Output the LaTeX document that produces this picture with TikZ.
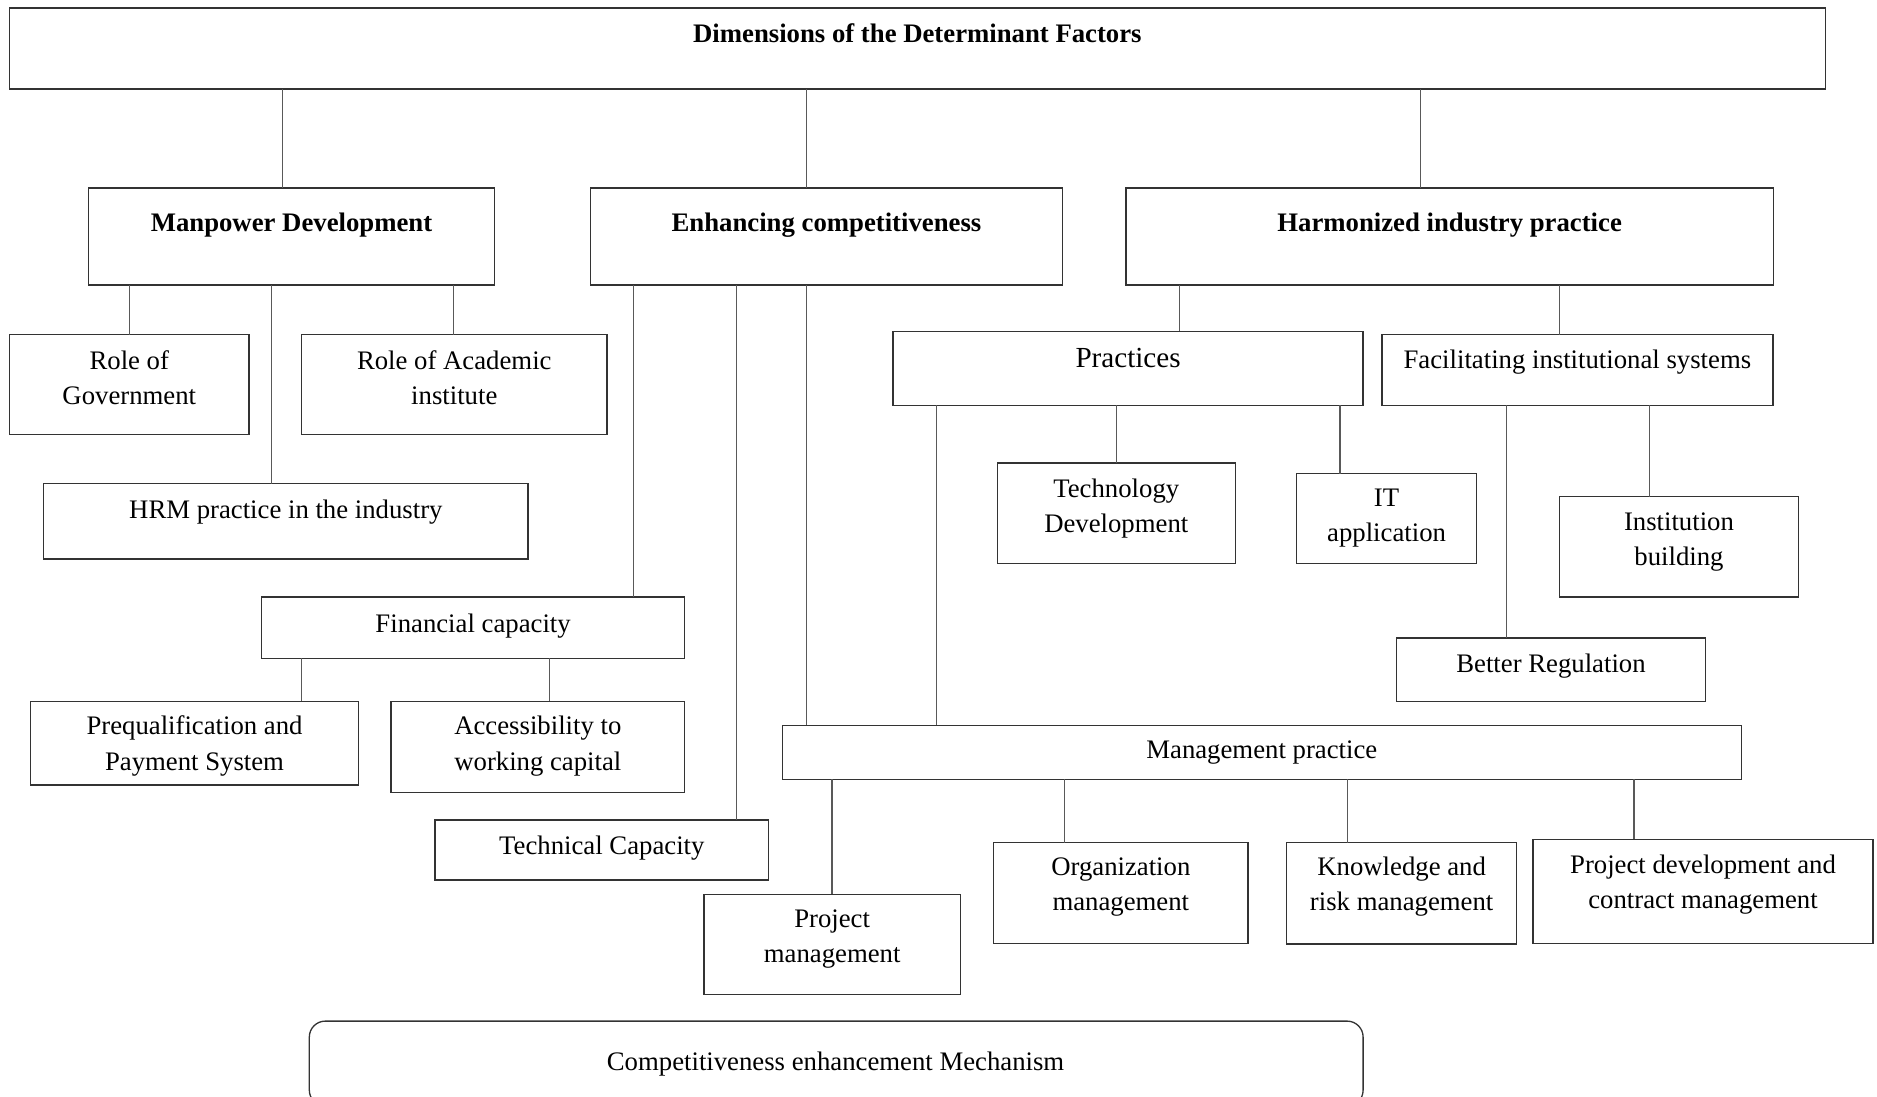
\documentclass[tikz,border=0pt]{standalone}
\usepackage{fontspec}
\setmainfont{Liberation Serif}
% box with its caption: [caption style]{name}{x1}{y1}{x2}{y2}{first baseline}{text}
\newcommand\bx[8][txt]{%
  \node[box, minimum width={(#5-#3)*0.6pt}, minimum height={(#6-#4)*0.6pt}] (#2) at ({(#3+#5)/2},{(#4+#6)/2}) {};
  \node[#1] (#2-t) at ({(#3+#5)/2},{#7-21.6}) {\strut #8};
}
% vertical connector from the bottom of one box to the top of another at abscissa #3
\newcommand\lk[3]{\draw[link] (#1.south -| #3,0) -- (#2.north -| #3,0);}
\begin{document}
\begin{tikzpicture}[x=0.6pt,y=-0.6pt,
  box/.style={draw=black!80, line width=0.65pt, rectangle, inner sep=0pt, outer sep=0pt},
  txt/.style={align=center, inner sep=0pt, anchor=north, font=\fontsize{13.4}{17.7}\selectfont},
  head/.style={txt, font=\fontsize{13.4}{17.7}\selectfont\bfseries},
  big/.style={txt, font=\fontsize{14.6}{17.7}\selectfont},
  link/.style={draw=black!65, line width=0.55pt}]
\fill[white] (0,0) rectangle (1568,916.4);
\useasboundingbox (0,0) rectangle (1568,916.4);

% top level
\bx[head]{top}{8}{6.6}{1524.7}{74.4}{35.8}{Dimensions of the Determinant Factors}
\bx[head]{mp}{74}{157}{413}{238}{194}{Manpower Development}
\bx[head]{ec}{493.3}{157}{887.5}{238}{194}{Enhancing competitiveness}
\bx[head]{hip}{940.5}{157}{1481.4}{238}{194}{Harmonized industry practice}

% manpower development
\bx{gov}{8}{279.6}{208}{363}{309}{Role of\\Government}
\bx{acad}{252}{279.6}{507}{363}{309}{Role of Academic\\institute}
\bx{hrm}{36.6}{404}{441}{467}{434}{HRM practice in the industry}

% enhancing competitiveness
\bx{fin}{218.4}{498.8}{572}{549.8}{528.7}{Financial capacity}
\bx{preq}{25.5}{586}{299.5}{655.8}{614.6}{Prequalification and\\Payment System}
\bx{acc}{326.6}{586}{572}{662}{614.6}{Accessibility to\\working capital}
\bx{tech}{363.5}{685}{642}{735}{714.3}{Technical Capacity}
\bx{mgmt}{653.6}{606}{1454.5}{651}{634.6}{Management practice}
\bx{pm}{588}{747}{802.3}{831}{775}{Project\\management}
\bx{org}{830}{703.8}{1042.6}{788}{732}{Organization\\management}
\bx{know}{1074.8}{703.8}{1267}{788.5}{732}{Knowledge and\\risk management}
\bx{pdev}{1280.7}{701}{1564.6}{788}{730}{Project development and\\contract management}

% harmonized industry practice
\bx[big]{prac}{746}{276.8}{1138.7}{338.6}{307.3}{Practices}
\bx{fac}{1154.4}{279.6}{1481}{338.6}{308.2}{Facilitating institutional systems}
\bx{tdev}{833}{386.7}{1032}{470.8}{416}{Technology\\Development}
\bx{it}{1083}{395.6}{1233.6}{470.8}{423.7}{IT\\application}
\bx{inst}{1302.6}{415}{1502.5}{498.8}{443.9}{Institution\\building}
\bx{breg}{1166.3}{533}{1425}{586}{562}{Better Regulation}

% mechanism (runs past the lower edge)
\node[box, rounded corners=8pt, minimum width={880.3*0.6pt}, minimum height={71*0.6pt}] (mech) at (698.55,888.5) {};
\node[txt] (mech-t) at (698,873.5) {\strut Competitiveness enhancement Mechanism};

% connectors
\lk{top}{mp}{236}
\lk{top}{ec}{674}
\lk{top}{hip}{1187}
\lk{mp}{gov}{108}
\lk{mp}{acad}{379}
\lk{mp}{hrm}{227}
\lk{ec}{fin}{529.4}
\lk{ec}{tech}{615.5}
\lk{ec}{mgmt}{673.5}
\lk{fin}{preq}{252}
\lk{fin}{acc}{459}
\lk{hip}{prac}{985}
\lk{hip}{fac}{1302.6}
\lk{prac}{tdev}{933}
\lk{prac}{it}{1119.4}
\lk{prac}{mgmt}{782}
\lk{fac}{breg}{1258.5}
\lk{fac}{inst}{1377.6}
\lk{mgmt}{pm}{695}
\lk{mgmt}{org}{889}
\lk{mgmt}{know}{1126}
\lk{mgmt}{pdev}{1365}
\end{tikzpicture}
\end{document}
